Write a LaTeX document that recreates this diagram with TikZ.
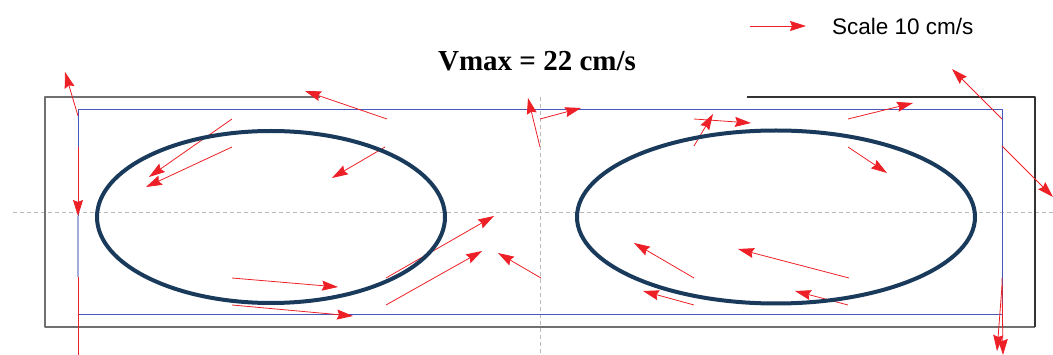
\documentclass[tikz,border=0pt]{standalone}
\usepackage{fontspec}
\setmainfont{Liberation Serif}
\newfontfamily\arialfont{Liberation Sans}
\usetikzlibrary{arrows.meta}

\definecolor{vecred}{RGB}{236,32,38}
\definecolor{tankgray}{RGB}{112,112,112}
\definecolor{panelblue}{RGB}{70,88,185}
\definecolor{coreblue}{RGB}{26,58,92}

\tikzset{
  vec/.style={vecred, line width=0.8pt, -{Stealth[length=16pt,width=10pt,inset=2pt]}},
  axisline/.style={gray!55, line width=0.9pt, dash pattern=on 4pt off 3pt},
  core/.style={coreblue, line width=4pt}
}

\begin{document}
\begin{tikzpicture}[x=1pt,y=-1pt, line join=round]

% -----------------------------
% Frame (pixel units, y down)
% -----------------------------
\useasboundingbox (0,0) rectangle (1053,355);

% dashed symmetry axes
\draw[axisline] (13,212) -- (1053,212);
\draw[axisline] (540,97) -- (540,355);

% outer wall (top is open in the middle)
\draw[tankgray, line width=1.5pt] (320,97) -- (45,97) -- (45,327) -- (1035,327);
\draw[black!80, line width=1.5pt] (747,97) -- (1035,97) -- (1035,327);

% inner panel
\draw[panelblue, line width=0.9pt] (78,109) rectangle (1002,314);
\draw[panelblue!50, line width=1.2pt] (78,216) -- (78,277);

% -----------------------------
% Velocity vectors: tail x/y / head x/y
% -----------------------------
\foreach \xa/\ya/\xb/\yb in {
    78/116/65/72,      78/147/78/216,
    232/119/149/177,   232/147/146/187,
    387/119/305/91,    385/147/332/178,
    540/147/528/98,    540/119/581/108,
    386/278/494/216,   386/305/482/251,   541/278/498/253,
    694/278/634/243,   694/305/643/291,
    232/278/338/287,   232/305/353/316,
    694/146/713/114,   694/119/751/123,
    848/119/913/103,   848/147/887/173,
    1002/119/952/69,   1002/146/1053/197,
    849/278/738/249,   848/305/795/291,
    1002/278/1003/355, 1002/286/997/351} {%
  \draw[vec] (\xa,\ya) -- (\xb,\yb);%
}
% vector leaving the frame at the bottom
\draw[vecred, line width=0.8pt] (78,277) -- (78,355);

% -----------------------------
% Vortex cores
% -----------------------------
\draw[core] (271,217) ellipse [x radius=174, y radius=86];
\draw[core] (776,217) ellipse [x radius=199, y radius=86.5];

% -----------------------------
% Labels and scale
% -----------------------------
\node[font=\bfseries\fontsize{29}{32}\selectfont] (title) at (537,61) {Vmax = 22 cm/s};

\coordinate (leg0) at (750,26);
\node[anchor=west, font=\arialfont\fontsize{22.5}{26}\selectfont, inner sep=0pt] (scale) at (832,26) {Scale 10 cm/s};
\draw[vec] (leg0) -- (806,26);

\end{tikzpicture}
\end{document}
